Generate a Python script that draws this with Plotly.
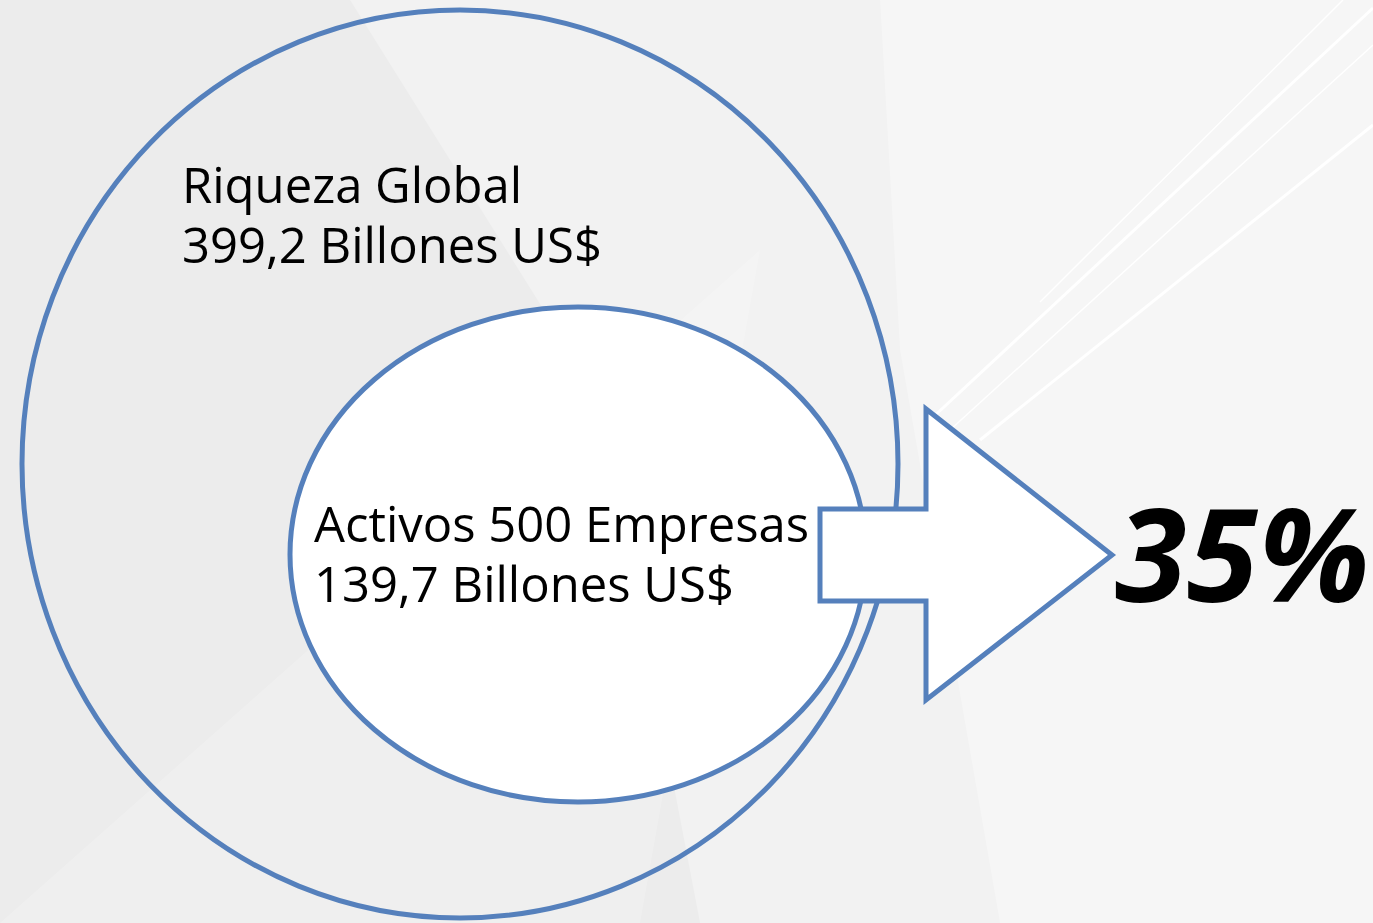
import plotly.graph_objects as go

# ---- data ----
labels = ["Riqueza Global", "Activos 500 Empresas"]
values = [399.2, 139.7]          # billones US$
unit = "Billones US$"
share = round(values[1] / values[0] * 100)

W, H = 1373, 923
LINE = "#5580BC"

def fmt(v):
    return f"{v:.1f}".replace(".", ",")

fig = go.Figure()

# invisible trace to establish axes
fig.add_trace(go.Scatter(x=[0, W], y=[0, H], mode="markers",
                         marker=dict(opacity=0), hoverinfo="skip", showlegend=False))

shapes = []
# background decoration (subtle)
shapes.append(dict(type="path", path=f"M 0 0 L {W} 0 L {W} {H} L 0 {H} Z",
                   fillcolor="#ececec", line=dict(width=0), layer="below"))
shapes.append(dict(type="path", path=f"M 350 0 L {W} 0 L {W} {H} L 700 {H} L 600 400 Z",
                   fillcolor="rgba(255,255,255,0.3)", line=dict(width=0), layer="below"))
shapes.append(dict(type="path", path=f"M 880 0 L {W} 0 L {W} {H} L 1000 {H} L 900 350 Z",
                   fillcolor="rgba(255,255,255,0.3)", line=dict(width=0), layer="below"))
shapes.append(dict(type="path", path=f"M 0 {H} L 760 250 L 640 {H} Z",
                   fillcolor="rgba(255,255,255,0.2)", line=dict(width=0), layer="below"))
for (x0, y0, x1, y1, w) in [(1040, 302, 1343, 0, 1.5), (930, 420, 1373, 8, 3),
                            (950, 430, 1373, 45, 1.5), (980, 440, 1373, 125, 3)]:
    shapes.append(dict(type="line", x0=x0, y0=y0, x1=x1, y1=y1,
                       line=dict(color="rgba(255,255,255,0.95)", width=w), layer="below"))

# outer circle (global wealth)
shapes.append(dict(type="circle", x0=22, x1=898, y0=10, y1=918,
                   line=dict(color=LINE, width=5), fillcolor="rgba(0,0,0,0)"))
# inner ellipse (500 companies)
shapes.append(dict(type="circle", x0=290, x1=866, y0=307, y1=802,
                   line=dict(color=LINE, width=5), fillcolor="white"))
# arrow
shapes.append(dict(type="path",
                   path="M 820 509 L 926 509 L 926 409 L 1112 555 L 926 700 L 926 601 L 820 601 Z",
                   line=dict(color=LINE, width=5), fillcolor="white"))

fig.update_layout(shapes=shapes)

FONT = "Open Sans"
FS = 49
ann = []
ann.append(dict(x=180, y=184, text=labels[0], xanchor="left", yanchor="middle",
                showarrow=False, font=dict(family=FONT, size=FS, color="black")))
ann.append(dict(x=180, y=244, text=f"{fmt(values[0])} {unit}", xanchor="left", yanchor="middle",
                showarrow=False, font=dict(family=FONT, size=FS, color="black")))
ann.append(dict(x=312, y=523, text=labels[1], xanchor="left", yanchor="middle",
                showarrow=False, font=dict(family=FONT, size=FS, color="black")))
ann.append(dict(x=312, y=583, text=f"{fmt(values[1])} {unit}", xanchor="left", yanchor="middle",
                showarrow=False, font=dict(family=FONT, size=FS, color="black")))
ann.append(dict(x=1242, y=551, text=f"<b><i>{share}%</i></b>", xanchor="center", yanchor="middle",
                showarrow=False, font=dict(family=FONT, size=130, color="black")))

fig.update_layout(
    annotations=ann,
    width=W, height=H,
    margin=dict(l=0, r=0, t=0, b=0),
    paper_bgcolor="#ececec", plot_bgcolor="#ececec",
    xaxis=dict(range=[0, W], visible=False, fixedrange=True),
    yaxis=dict(range=[H, 0], visible=False, fixedrange=True),
    showlegend=False,
)

fig.write_html("out.html", config=dict(displayModeBar=False),
               post_script="document.body.style.margin='0';document.body.style.overflow='hidden';")
